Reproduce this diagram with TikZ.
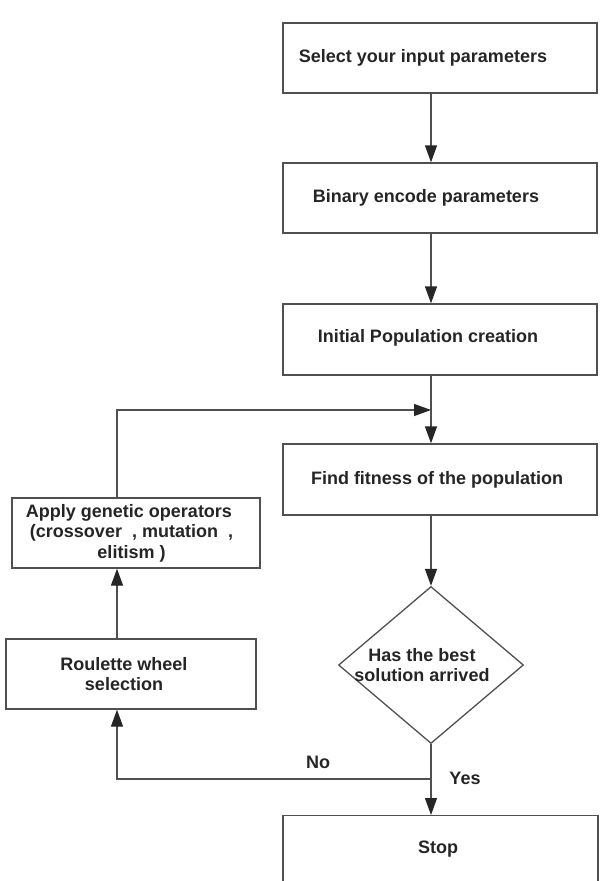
\documentclass[tikz,border=0pt]{standalone}
\usepackage{fontspec}
\setmainfont{Liberation Sans}
\usetikzlibrary{arrows.meta,shapes.geometric}
\definecolor{linec}{HTML}{505050}
\definecolor{textc}{HTML}{252525}
\begin{document}
\begin{tikzpicture}[x=1pt,y=-1pt,
  box/.style={draw=linec,line width=1.3pt,rectangle,inner sep=0pt},
  lbl/.style={inner sep=0pt,text=textc,font=\fontsize{18}{20.5}\selectfont\bfseries,align=center},
  arr/.style={draw=linec,line width=1.3pt,-{Triangle[length=17pt,width=12pt,color=black!85]}},
  ln/.style={draw=linec,line width=1.3pt}]
\useasboundingbox (0,0) rectangle (613,881);
\clip (0,0) rectangle (613,881);
% boxes
\node[box,minimum width=314pt,minimum height=70pt] (b1) at (440,58) {};
\node[box,minimum width=314pt,minimum height=70pt] (b2) at (440,198) {};
\node[box,minimum width=314pt,minimum height=71pt] (b3) at (440,339.5) {};
\node[box,minimum width=314pt,minimum height=71pt] (b4) at (440,479.5) {};
\node[draw=linec,line width=1.3pt,diamond,aspect=1.18,minimum width=185pt,minimum height=157pt,inner sep=0pt] (d) at (431,665) {};
\node[box,minimum width=248pt,minimum height=70pt] (ap) at (136,533) {};
\node[box,minimum width=250pt,minimum height=70pt] (ro) at (131,674) {};
\node[box,minimum width=315pt,minimum height=120pt,anchor=north] (st) at (440.5,815) {};
% texts
\node[lbl] (t1) at (423,58) {Select your input parameters};
\node[lbl] (t2) at (426,198) {Binary encode parameters};
\node[lbl] (t3) at (428,338) {Initial Population creation};
\node[lbl] (t4) at (437,480) {Find fitness of the population};
\node[lbl] (td) at (422,665) {Has the best\\solution arrived};
\node[lbl] (ta) at (129,533) {Apply genetic operators\\ \ (crossover\ \ , mutation\ \ ,\\ \ elitism )};
\node[lbl] (tr) at (124,674) {Roulette wheel\\selection};
\node[lbl] (ts) at (438,849) {Stop};
\node[lbl] (no) at (318,762) {No};
\node[lbl] (yes) at (465,778) {Yes};
% helper coordinates
\coordinate (lx) at (117,0);
\coordinate (jn) at (431,410);
\coordinate (sp) at (431,779);
% connectors
\draw[arr] (b1.south -| d.north) -- (b2.north -| d.north);
\draw[arr] (b2.south -| d.north) -- (b3.north -| d.north);
\draw[arr] (b3.south -| d.north) -- (b4.north -| d.north);
\draw[arr] (b4.south -| d.north) -- (d.north);
\draw[arr] (ap.north -| lx) |- (jn);
\draw[arr] (ro.north -| lx) -- (ap.south -| lx);
\draw[ln] (d.south) -- (sp);
\draw[arr] (sp) -| (ro.south -| lx);
\draw[arr] (sp) -- (st.north -| d.north);
\end{tikzpicture}
\end{document}
